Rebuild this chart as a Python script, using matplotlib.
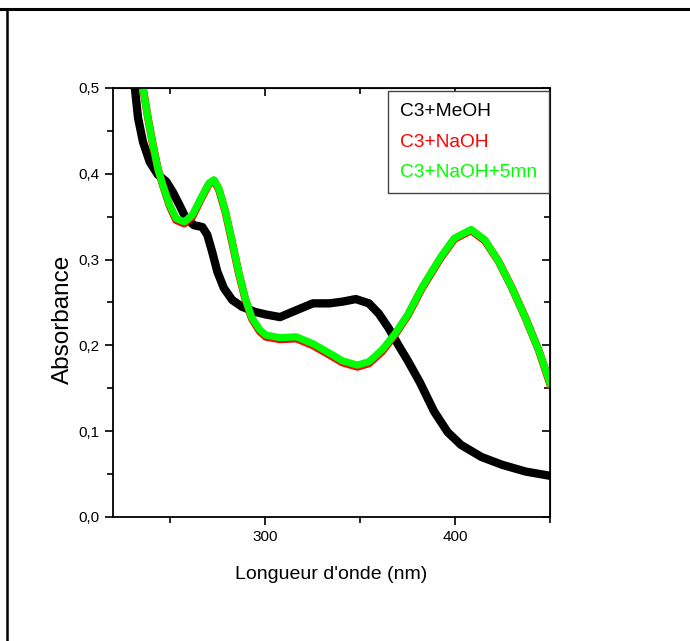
import matplotlib
matplotlib.use("Agg")
import matplotlib.pyplot as plt
from matplotlib.lines import Line2D
from matplotlib.ticker import MultipleLocator

# Spectres UV-visible
nm_meoh = [228, 231.5, 233.2, 235.8, 239.3, 243.6, 248, 251.4, 254.9, 258.4, 262.7, 267,
           269.6, 272.2, 274.9, 278.3, 282.7, 287.9, 294.8, 300.5, 307.9, 316.5, 325.2,
           333.9, 340.8, 347.8, 354.7, 359.9, 365.1, 370.3, 375.2, 381.5, 389, 396.1,
           403.2, 413.9, 424.6, 437.1, 450]
a_meoh = [0.54, 0.50, 0.465, 0.437, 0.414, 0.399, 0.391, 0.379, 0.364, 0.348, 0.340,
          0.338, 0.329, 0.309, 0.286, 0.267, 0.253, 0.245, 0.239, 0.236, 0.233, 0.241,
          0.249, 0.249, 0.251, 0.254, 0.249, 0.237, 0.22, 0.20, 0.182, 0.157, 0.123,
          0.099, 0.084, 0.070, 0.061, 0.053, 0.048]

nm_naoh = [233, 235.8, 238.4, 241, 243.6, 246.2, 249.7, 253.2, 257.5, 261.8, 266.2, 270.5,
           273.1, 275.7, 279.2, 282.7, 286.1, 289.6, 293.1, 297.4, 300.5, 307.9, 316.5,
           325.2, 333.9, 340.8, 348.6, 354.7, 361.7, 368.6, 375.2, 382.5, 392.5, 399.7,
           408.5, 415.7, 422.9, 430, 437.1, 444.3, 450]
a_naoh = [0.54, 0.50, 0.465, 0.434, 0.406, 0.387, 0.363, 0.346, 0.342, 0.350, 0.370,
          0.388, 0.392, 0.382, 0.355, 0.320, 0.285, 0.254, 0.231, 0.216, 0.210, 0.207,
          0.208, 0.200, 0.189, 0.180, 0.175, 0.179, 0.193, 0.213, 0.235, 0.266, 0.302,
          0.324, 0.334, 0.322, 0.298, 0.267, 0.232, 0.193, 0.155]

nm_naoh5 = [233, 235.8, 238.4, 241, 243.6, 246.2, 249.7, 253.2, 257.5, 261.8, 266.2, 270.5,
            273.1, 275.7, 279.2, 282.7, 286.1, 289.6, 293.1, 297.4, 300.5, 307.9, 316.5,
            325.2, 333.9, 340.8, 348.6, 354.7, 361.7, 368.6, 375.2, 382.5, 392.5, 399.7,
            408.5, 415.7, 422.9, 430, 437.1, 444.3, 450]
a_naoh5 = [0.54, 0.50, 0.465, 0.434, 0.406, 0.387, 0.364, 0.348, 0.344, 0.352, 0.371,
           0.389, 0.393, 0.383, 0.356, 0.321, 0.286, 0.255, 0.232, 0.218, 0.212, 0.209,
           0.210, 0.202, 0.191, 0.182, 0.177, 0.181, 0.195, 0.214, 0.236, 0.267, 0.303,
           0.325, 0.335, 0.323, 0.298, 0.267, 0.232, 0.193, 0.156]

legende = ["C3+MeOH", "C3+NaOH", "C3+NaOH+5mn"]
couleurs = ["black", "red", "#00ff00"]

police = ["Liberation Sans", "DejaVu Sans"]

fig = plt.figure(figsize=(6.9, 6.41), dpi=100)
ax = fig.add_axes([113 / 690, 124 / 641, 437 / 690, 429 / 641])

ax.plot(nm_meoh, a_meoh, color=couleurs[0], lw=6.0, solid_joinstyle="round")
ax.plot(nm_naoh, a_naoh, color=couleurs[1], lw=5.6, solid_joinstyle="round")
ax.plot(nm_naoh5, a_naoh5, color=couleurs[2], lw=5.2, solid_joinstyle="round")

ax.set_xlim(220, 450)
ax.set_ylim(0, 0.5)
ax.xaxis.set_major_locator(MultipleLocator(100))
ax.xaxis.set_minor_locator(MultipleLocator(50))
ax.yaxis.set_major_locator(MultipleLocator(0.1))
ax.yaxis.set_minor_locator(MultipleLocator(0.05))
ax.yaxis.set_major_formatter(plt.FuncFormatter(lambda v, p: ("%.1f" % v).replace(".", ",")))

for s in ax.spines.values():
    s.set_linewidth(1.3)
ax.tick_params(which="both", direction="out", width=1.2, labelsize=11)
ax.tick_params(which="major", length=6)
ax.tick_params(which="minor", length=4)
for lab in ax.get_xticklabels() + ax.get_yticklabels():
    lab.set_family(police)

# graduations du haut et de droite vers l'intérieur, sans étiquette
ax_top = ax.secondary_xaxis("top")
ax_top.xaxis.set_major_locator(MultipleLocator(100))
ax_top.xaxis.set_minor_locator(MultipleLocator(50))
ax_top.tick_params(which="both", direction="in", width=1.2, labeltop=False)
ax_top.tick_params(which="major", length=6)
ax_top.tick_params(which="minor", length=4)
ax_right = ax.secondary_yaxis("right")
ax_right.yaxis.set_major_locator(MultipleLocator(0.1))
ax_right.yaxis.set_minor_locator(MultipleLocator(0.05))
ax_right.tick_params(which="both", direction="in", width=1.2, labelright=False)
ax_right.tick_params(which="major", length=6)
ax_right.tick_params(which="minor", length=4)

ax.set_xlabel("Longueur d'onde (nm)", family=police, fontsize=14, labelpad=16)
ax.set_ylabel("Absorbance", family=police, fontsize=17.5)
ax.yaxis.set_label_coords(-0.09, 0.46)

leg = ax.legend([Line2D([], [], lw=0)] * 3, legende, loc="upper right",
                handlelength=0, handletextpad=0, fancybox=False, framealpha=1,
                edgecolor="#444444", prop={"family": police, "size": 13.8},
                borderpad=0.62, labelspacing=0.68, borderaxespad=0,
                bbox_to_anchor=(0.998, 0.993))
leg.get_frame().set_linewidth(1.0)
for txt, c in zip(leg.get_texts(), couleurs):
    txt.set_color(c)

# cadre du tableau autour de la figure
fig.add_artist(Line2D([0, 1], [1 - 9 / 641, 1 - 9 / 641], color="black", lw=2.2))
fig.add_artist(Line2D([7 / 690, 7 / 690], [0, 1 - 9 / 641], color="black", lw=1.8))

fig.savefig("out.png", dpi=100)
